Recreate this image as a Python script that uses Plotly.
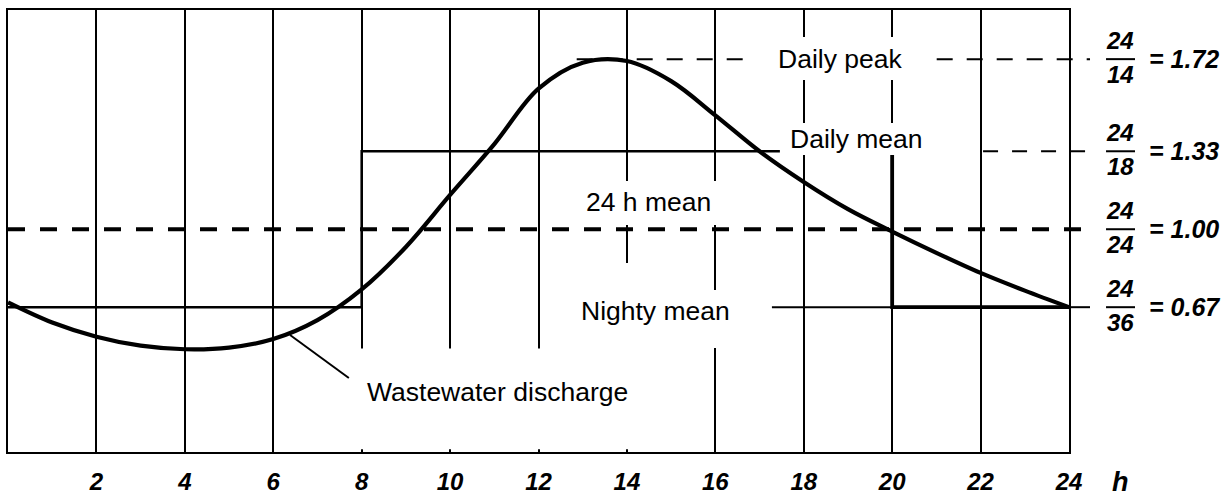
import plotly.graph_objects as go

# Hourly wastewater discharge, expressed as a fraction of the 24 h mean
hours = list(range(0, 25))
discharge = [0.69, 0.605, 0.545, 0.507, 0.492, 0.499, 0.535, 0.615, 0.745, 0.925, 1.145, 1.36, 1.595,
             1.705, 1.712, 1.627, 1.482, 1.33, 1.20, 1.085, 0.99, 0.90, 0.815, 0.74, 0.67]

# Reference levels: numerator / denominator = value
ratio_num = [24, 24, 24, 24]
ratio_den = [14, 18, 24, 36]
ratio_val = [1.72, 1.33, 1.00, 0.67]
peak, day_mean, mean_24, night_mean = ratio_val

# Day period (daily mean) and night period (nightly mean)
day_start, day_end = 8, 20

hour_ticks = [2, 4, 6, 8, 10, 12, 14, 16, 18, 20, 22, 24]

X_LO, X_HI = 0, 24
Y_LO, Y_HI = 0.057, 1.928
P_END = 1.0198  # dashed guides run a little past the frame

TXT = dict(family="Liberation Sans, Arial, sans-serif", size=26.5, color="black")
BI = dict(family="Liberation Sans, Arial, sans-serif", size=24, color="black",
          weight="bold", style="italic")

fig = go.Figure()

# Mean profile: nightly mean, daily mean, nightly mean
fig.add_trace(go.Scatter(
    x=[X_LO, day_start, day_start, day_end, day_end, X_HI],
    y=[night_mean, night_mean, day_mean, day_mean, night_mean, night_mean],
    mode="lines", line=dict(color="black", width=2.5), hoverinfo="skip"))
fig.add_trace(go.Scatter(
    x=[day_end, day_end, X_HI],
    y=[day_mean, night_mean, night_mean],
    mode="lines", line=dict(color="black", width=3.8), hoverinfo="skip"))

# Discharge curve
fig.add_trace(go.Scatter(
    x=hours, y=discharge, mode="lines",
    line=dict(color="black", width=4.2, shape="spline", smoothing=1.0),
    hoverinfo="skip"))

shapes = []
# Dashed guide lines
shapes.append(dict(type="line", xref="paper", yref="y", x0=0, x1=P_END, y0=mean_24, y1=mean_24,
                   line=dict(color="black", width=4, dash="17px,15px"), layer="above"))
shapes.append(dict(type="line", xref="paper", yref="y", x0=0.536, x1=P_END, y0=peak, y1=peak,
                   line=dict(color="black", width=2, dash="16px,14px"), layer="above"))
shapes.append(dict(type="line", xref="paper", yref="y", x0=0.919, x1=P_END, y0=day_mean, y1=day_mean,
                   line=dict(color="black", width=2, dash="15px,14px"), layer="above"))

# White backgrounds behind the labels (interrupt grid and guide lines)
label_boxes = [
    (16.74, 20.86, 1.632, 1.814),   # Daily peak
    (17.46, 20.97, 1.314, 1.450),   # Daily mean
    (12.89, 16.08, 1.018, 1.204),   # 24 h mean
    (12.83, 16.44, 0.497, 0.743),   # Nighty mean
    (13.66, 14.34, 0.480, 0.857),   # space under 24 h mean
    (7.85, 14.41, 0.069, 0.495),    # Wastewater discharge
]
for x0, x1, y0, y1 in label_boxes:
    shapes.append(dict(type="rect", xref="x", yref="y", x0=x0, x1=x1, y0=y0, y1=y1,
                       fillcolor="white", line=dict(width=0), layer="above"))

# Leader lines
shapes.append(dict(type="line", xref="x", yref="y", x0=6.38, y0=0.552, x1=7.71, y1=0.370,
                   line=dict(color="black", width=2), layer="above"))
shapes.append(dict(type="line", xref="x", yref="y", x0=17.28, y0=night_mean, x1=day_end, y1=night_mean,
                   line=dict(color="black", width=2), layer="above"))
shapes.append(dict(type="line", xref="paper", yref="y", x0=1.0, x1=P_END, y0=night_mean, y1=night_mean,
                   line=dict(color="black", width=2), layer="above"))

annotations = []
# Fractions on the right
for num, den, val in zip(ratio_num, ratio_den, ratio_val):
    shapes.append(dict(type="line", xref="paper", yref="y", x0=1.0349, x1=1.0622, y0=val, y1=val,
                       line=dict(color="black", width=2)))
    annotations.append(dict(xref="paper", yref="y", x=1.0485, y=val, text=str(num), showarrow=False,
                            xanchor="center", yanchor="middle", yshift=19, font=BI))
    annotations.append(dict(xref="paper", yref="y", x=1.0485, y=val, text=str(den), showarrow=False,
                            xanchor="center", yanchor="middle", yshift=-15, font=BI))
    annotations.append(dict(xref="paper", yref="y", x=1.0735, y=val, text=f"= {val:.2f}",
                            showarrow=False, xanchor="left", yanchor="middle",
                            font=dict(BI, size=25)))

# Curve and level labels
for txt, x, y in [("Daily peak", 18.82, peak), ("Daily mean", 19.2, 1.382),
                  ("24 h mean", 14.48, 1.117), ("Nighty mean", 14.64, 0.654),
                  ("Wastewater discharge", 11.07, 0.313)]:
    annotations.append(dict(xref="x", yref="y", x=x, y=y, text=txt, showarrow=False,
                            xanchor="center", yanchor="middle", font=TXT))

# Unit of the time axis
annotations.append(dict(xref="paper", yref="paper", x=1.049, y=0, yshift=-30, text="h",
                        showarrow=False, xanchor="center", yanchor="middle",
                        font=dict(BI, size=27)))

fig.update_layout(
    width=1230, height=497,
    margin=dict(l=8, r=161, t=10, b=45, autoexpand=False),
    paper_bgcolor="white", plot_bgcolor="white",
    showlegend=False,
    shapes=shapes, annotations=annotations,
    xaxis=dict(range=[X_LO, X_HI], tickvals=hour_ticks, ticktext=[str(t) for t in hour_ticks],
               showgrid=True, gridcolor="black", gridwidth=2, zeroline=False,
               showline=True, mirror=True, linecolor="black", linewidth=2,
               ticks="", tickfont=BI, ticklabelstandoff=7, automargin=False, fixedrange=True),
    yaxis=dict(range=[Y_LO, Y_HI], showgrid=False, zeroline=False, showticklabels=False,
               showline=True, mirror=True, linecolor="black", linewidth=2, ticks="",
               automargin=False, fixedrange=True),
)

fig.write_html("out.html")
